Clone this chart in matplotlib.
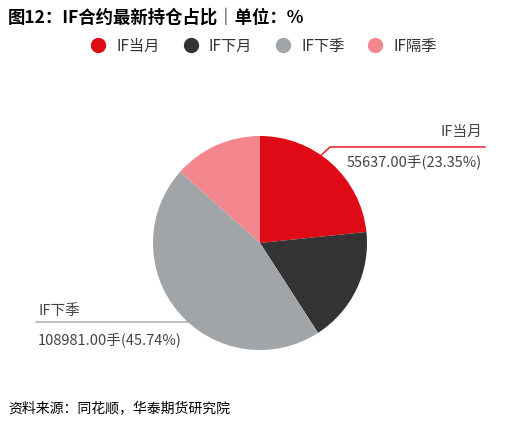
import matplotlib
matplotlib.use("Agg")
import matplotlib.pyplot as plt
from matplotlib.lines import Line2D

plt.rcParams['font.family'] = ['Noto Sans CJK SC', 'DejaVu Sans']

labels = ["IF当月", "IF下月", "IF下季", "IF隔季"]
values = [55637.00, 41750.00, 108981.00, 31906.00]
colors = ["#E00A16", "#333333", "#A2A5A8", "#F4878D"]

W, H = 519, 426
fig = plt.figure(figsize=(W/100, H/100), dpi=100)
cx, cy, r = 260, 243, 107
ax = fig.add_axes([(cx-r)/W, (H-cy-r)/H, 2*r/W, 2*r/H])
ax.pie(values, colors=colors, startangle=90, counterclock=False, radius=1)
ax.set_xlim(-1, 1); ax.set_ylim(-1, 1); ax.set_aspect('equal'); ax.axis('off')

total = sum(values)
def px(x, y):
    return x/W, 1-y/H

fig.text(*px(8, 18), "图12：IF合约最新持仓占比｜单位：%", fontsize=12.5, fontweight='bold', va='center')
handles = [Line2D([], [], marker='o', ls='', color=c, markersize=10) for c in colors]
fig.legend(handles, labels, loc='center', bbox_to_anchor=px(260, 46), ncol=4, frameon=False,
           fontsize=11, handletextpad=0.2, columnspacing=1.0, labelcolor='#333333')

# 当月 annotation
fig.add_artist(Line2D([px(316,160)[0], px(330,147)[0], px(485,147)[0]],
                      [px(316,160)[1], px(330,147)[1], px(485,147)[1]], color=colors[0], lw=1))
fig.text(*px(482, 132), labels[0], ha='right', va='center', fontsize=10.5, color='#444444')
fig.text(*px(482, 162), f"{values[0]:.2f}手({values[0]/total*100:.2f}%)", ha='right', va='center', fontsize=10.5, color='#444444')
# 下季 annotation
fig.add_artist(Line2D([px(36,322)[0], px(200,322)[0], px(214,314)[0]],
                      [px(36,322)[1], px(200,322)[1], px(214,314)[1]], color=colors[2], lw=1))
fig.text(*px(38, 311), labels[2], ha='left', va='center', fontsize=10.5, color='#444444')
fig.text(*px(38, 340), f"{values[2]:.2f}手({values[2]/total*100:.2f}%)", ha='left', va='center', fontsize=10.5, color='#444444')

fig.text(*px(8, 408), "资料来源：同花顺，华泰期货研究院", fontsize=10, style='italic', va='center')
fig.savefig("out.png", dpi=100)
